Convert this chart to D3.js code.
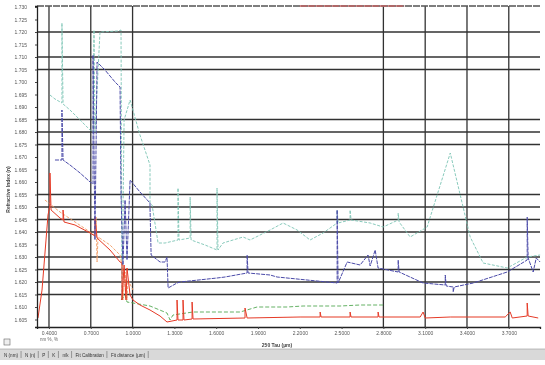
<!DOCTYPE html>
<html>
<head>
<meta charset="utf-8">
<script src="https://cdn.jsdelivr.net/npm/d3@7/dist/d3.min.js"></script>
<style>
  body { margin: 0; background: #fff; }
  text { font-family: "Liberation Sans", Arial, sans-serif; }
</style>
</head>
<body>
<div id="chart"></div>
<script>
// tick labels
const yTicks = [1.730,1.725,1.720,1.715,1.710,1.705,1.700,1.695,1.690,1.685,1.680,1.675,1.670,
                1.665,1.660,1.655,1.650,1.645,1.640,1.635,1.630,1.625,1.620,1.615,1.610,1.605];
const xTicks = [0.4,0.7,1.0,1.3,1.6,1.9,2.2,2.5,2.8,3.1,3.4,3.7];
const hGrid = [1.720,1.710,1.705,1.685,1.680,1.675,1.655,1.650,1.645,1.640,1.630,1.625,1.620,1.615];
const vGrid = [0.4,0.7,1.0,2.8,3.1,3.4,3.7];
const tabs = ["N (nm)","N (n)","P","K","n/k","Fit Calibration","Fit distance (µm)"];

// series [wavelength, index]
const teal = [[0.407,1.6948],[0.443,1.6932],[0.493,1.6916],[0.493,1.7236],[0.501,1.6912],[0.551,1.6888],
  [0.623,1.6848],[0.695,1.6808],[0.716,1.6800],[0.723,1.7208],[0.730,1.6800],[0.766,1.7200],[0.896,1.7204],
  [0.917,1.7208],[0.924,1.6128],[0.939,1.6848],[0.982,1.6928],[1.053,1.6788],[1.125,1.6668],[1.125,1.6516],
  [1.140,1.6508],[1.183,1.6356],[1.233,1.6356],[1.326,1.6368],[1.326,1.6576],[1.333,1.6368],[1.413,1.6376],
  [1.413,1.6540],[1.420,1.6368],[1.520,1.6348],[1.606,1.6328],[1.606,1.6576],[1.613,1.6328],[1.649,1.6356],
  [1.793,1.6380],[1.843,1.6368],[1.987,1.6408],[2.080,1.6436],[2.181,1.6408],[2.274,1.6368],[2.367,1.6396],
  [2.468,1.6436],[2.468,1.6488],[2.475,1.6436],[2.561,1.6448],[2.561,1.6488],[2.568,1.6448],[2.705,1.6436],
  [2.798,1.6420],[2.906,1.6448],[2.906,1.6476],[2.913,1.6440],[2.992,1.6380],[3.114,1.6420],[3.280,1.6716],
  [3.423,1.6380],[3.516,1.6276],[3.689,1.6256],[3.832,1.6300],[3.925,1.6308]];

const navy = [[0.443,1.6688],[0.493,1.6688],[0.493,1.6888],[0.501,1.6688],[0.551,1.6668],[0.623,1.6636],
  [0.695,1.6600],[0.716,1.6592],[0.716,1.7108],[0.730,1.6368],[0.745,1.7080],[0.802,1.7048],[0.874,1.7000],
  [0.910,1.6980],[0.917,1.6548],[0.931,1.6268],[0.946,1.6528],[0.960,1.6288],[0.982,1.6608],[1.053,1.6560],
  [1.125,1.6516],[1.125,1.6500],[1.133,1.6308],[1.197,1.6280],[1.233,1.6280],[1.247,1.6300],[1.255,1.6176],
  [1.319,1.6196],[1.341,1.6200],[1.606,1.6216],[1.664,1.6220],[1.822,1.6236],[1.822,1.6308],[1.829,1.6236],
  [1.987,1.6228],[2.037,1.6220],[2.468,1.6196],[2.468,1.6488],[2.475,1.6196],[2.540,1.6280],[2.633,1.6268],
  [2.690,1.6308],[2.705,1.6264],[2.741,1.6328],[2.762,1.6256],[2.906,1.6240],[2.906,1.6288],[2.913,1.6240],
  [3.085,1.6196],[3.244,1.6188],[3.244,1.6228],[3.251,1.6184],[3.301,1.6180],[3.301,1.6160],[3.308,1.6180],
  [3.445,1.6196],[3.689,1.6240],[3.832,1.6288],[3.832,1.6460],[3.839,1.6296],[3.875,1.6240],[3.897,1.6296],
  [3.925,1.6280]];

const red = [[0.321,1.6056],[0.350,1.6168],[0.393,1.6468],[0.407,1.6508],[0.407,1.6636],[0.415,1.6488],
  [0.479,1.6456],[0.501,1.6448],[0.501,1.6488],[0.508,1.6440],[0.587,1.6428],[0.695,1.6396],[0.730,1.6384],
  [0.730,1.6460],[0.745,1.6376],[0.838,1.6328],[0.910,1.6280],[0.924,1.6276],[0.924,1.6128],[0.939,1.6268],
  [0.953,1.6128],[0.960,1.6256],[0.982,1.6148],[1.003,1.6128],[1.053,1.6108],[1.125,1.6088],[1.197,1.6064],
  [1.247,1.6040],[1.319,1.6048],[1.319,1.6128],[1.326,1.6048],[1.362,1.6048],[1.362,1.6128],[1.369,1.6048],
  [1.427,1.6052],[1.427,1.6120],[1.434,1.6052],[1.807,1.6056],[1.807,1.6096],[1.822,1.6056],[2.202,1.6060],
  [2.346,1.6060],[2.346,1.6080],[2.353,1.6060],[2.561,1.6060],[2.561,1.6080],[2.568,1.6060],[2.762,1.6060],
  [2.762,1.6080],[2.769,1.6060],[3.064,1.6060],[3.085,1.6080],[3.100,1.6056],[3.280,1.6060],[3.674,1.6060],
  [3.710,1.6080],[3.725,1.6056],[3.832,1.6064],[3.832,1.6116],[3.839,1.6064],[3.911,1.6056]];

const orange = [[0.371,1.6528],[0.479,1.6480],[0.587,1.6440],[0.695,1.6400],[0.738,1.6384],[0.738,1.6460],
  [0.745,1.6280],[0.752,1.6380],[0.838,1.6348],[0.910,1.6308],[0.931,1.6248],[0.931,1.6128],[0.946,1.6240],
  [0.960,1.6128],[0.967,1.6208],[1.003,1.6168]];

const green = [[0.917,1.6128],[0.946,1.6148],[0.960,1.6120],[1.003,1.6116],[1.125,1.6104],[1.247,1.6076],
  [1.269,1.6048],[1.290,1.6068],[1.434,1.6080],[1.772,1.6080],[1.893,1.6100],[2.109,1.6100],[2.224,1.6104],
  [2.489,1.6104],[2.633,1.6108],[2.798,1.6108]];

const W = 545, H = 365;
const x = d3.scaleLinear().domain([0.314, 3.924]).range([37, 540]);
const y = d3.scaleLinear().domain([1.602, 1.7304]).range([327, 6]);

const svg = d3.select("#chart").append("svg")
  .attr("width", W).attr("height", H);

svg.append("defs").append("filter").attr("id", "soft")
  .append("feGaussianBlur").attr("stdDeviation", 0.35);

const g = svg.append("g").attr("filter", "url(#soft)");

// grid
g.selectAll(".hg").data(hGrid).join("line")
  .attr("x1", x.range()[0]).attr("x2", x.range()[1])
  .attr("y1", d => y(d)).attr("y2", d => y(d))
  .attr("stroke", "#333").attr("stroke-width", 1.3);

g.selectAll(".vg").data(vGrid).join("line")
  .attr("x1", d => x(d)).attr("x2", d => x(d))
  .attr("y1", y.range()[1]).attr("y2", y.range()[0])
  .attr("stroke", "#333").attr("stroke-width", 1.3);

// top border, dashed, with a reddish stretch
g.append("line")
  .attr("x1", x.range()[0]).attr("x2", x.range()[1])
  .attr("y1", y.range()[1]).attr("y2", y.range()[1])
  .attr("stroke", "#555").attr("stroke-width", 1.4).attr("stroke-dasharray", "7,1");
g.append("line")
  .attr("x1", x(2.2)).attr("x2", x(2.95))
  .attr("y1", y.range()[1]).attr("y2", y.range()[1])
  .attr("stroke", "#c06060").attr("stroke-width", 1.4).attr("stroke-dasharray", "7,1");

// series
const line = d3.line().x(d => x(d[0])).y(d => y(d[1]));
const series = [
  { data: teal,   color: "#7cc4b4", dash: "3,1.5", w: 0.9 },
  { data: orange, color: "#f29a60", dash: "3,1.5", w: 0.9 },
  { data: green,  color: "#52a852", dash: "4,2",   w: 0.9 },
  { data: red,    color: "#e53a26", dash: null,    w: 1 },
  { data: navy,   color: "#4a4aa8", dash: "4,1",   w: 1 }
];
g.selectAll(".s").data(series).join("path")
  .attr("d", d => line(d.data))
  .attr("fill", "none")
  .attr("stroke", d => d.color)
  .attr("stroke-width", d => d.w)
  .attr("stroke-dasharray", d => d.dash);

// axes
const ya = g.append("g").attr("transform", `translate(${x.range()[0]},0)`)
  .call(d3.axisLeft(y).tickValues(yTicks).tickFormat(d3.format(".3f")).tickSize(2));
const xa = g.append("g").attr("transform", `translate(0,${y.range()[0]})`)
  .call(d3.axisBottom(x).tickValues(xTicks).tickFormat(d3.format(".4f")).tickSize(2));
[ya, xa].forEach(a => {
  a.select(".domain").attr("stroke", "#222").attr("stroke-width", 1.3);
  a.selectAll(".tick line").attr("stroke", "#444");
  a.selectAll("text").attr("font-size", 5).attr("fill", "#555").attr("font-family", "Liberation Sans");
});
ya.selectAll("text").attr("x", -10);
xa.selectAll("text").attr("y", 4);

// labels
g.append("text")
  .attr("transform", `translate(10,${y(1.657)}) rotate(-90)`)
  .attr("text-anchor", "middle").attr("font-size", 5).attr("font-weight", "bold").attr("fill", "#444")
  .text("Refractive Index (n)");
g.append("text")
  .attr("x", 277).attr("y", 347)
  .attr("text-anchor", "middle").attr("font-size", 5).attr("font-weight", "bold").attr("fill", "#444")
  .text("250 Tau (µm)");
g.append("text")
  .attr("x", x(0.4)).attr("y", 341)
  .attr("text-anchor", "middle").attr("font-size", 4.5).attr("fill", "#666")
  .text("nm %, %");

// status bar with tabs
g.append("rect").attr("x", 4).attr("y", 339).attr("width", 6).attr("height", 6)
  .attr("fill", "#eee").attr("stroke", "#666").attr("stroke-width", 0.6);
g.append("rect").attr("x", 0).attr("y", 349).attr("width", W).attr("height", 11)
  .attr("fill", "#d9d9d9");
g.append("line").attr("x1", 0).attr("x2", W).attr("y1", 349).attr("y2", 349)
  .attr("stroke", "#999").attr("stroke-width", 0.6);

let tx = 4;
tabs.forEach(t => {
  const el = g.append("text").attr("x", tx).attr("y", 356.5)
    .attr("font-size", 4.6).attr("fill", "#333").text(t);
  const w = el.node().getComputedTextLength();
  g.append("line").attr("x1", tx + w + 3).attr("x2", tx + w + 3).attr("y1", 351).attr("y2", 358)
    .attr("stroke", "#666").attr("stroke-width", 0.6);
  tx += w + 7;
});
</script>
</body>
</html>
